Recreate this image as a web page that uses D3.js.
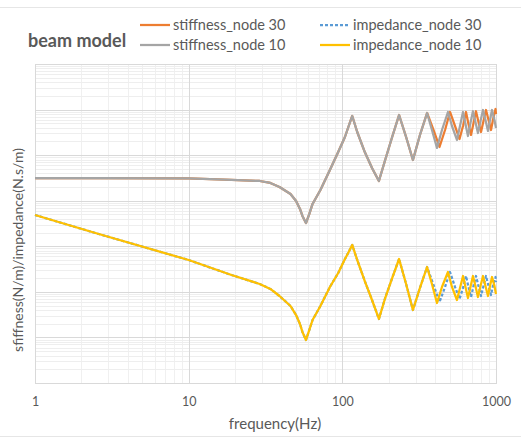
<!DOCTYPE html>
<html>
<head>
<meta charset="utf-8">
<script src="https://cdn.jsdelivr.net/npm/d3@7/dist/d3.min.js"></script>
<style>
  body { margin: 0; background: #fff; }
  text { font-family: Lato, "Open Sans", sans-serif; fill: #595959; }
</style>
</head>
<body>
<svg id="chart" width="521" height="438"></svg>
<script>
'use strict';

// frequency (Hz) and values
const freqNode10 = [1, 2.6, 10, 19, 29, 34, 39, 46, 50, 53, 55, 58, 61, 64, 72, 83, 94, 104, 110, 116,
  125, 140, 156, 173, 190, 211, 234, 260, 288, 320, 356, 383, 413, 445, 487, 517,
  557, 583, 610, 633, 657, 682, 708, 735, 763, 793, 823, 854, 887, 914, 942, 977, 1000];
const stiffNode10 = [3.15e7, 3.15e7, 3.08e7, 2.85e7, 2.71e7, 2.45e7, 2.0e7, 1.4e7, 9.86e6, 6.58e6, 4.62e6, 3.24e6, 5.12e6, 8.5e6, 1.72e7, 4.72e7, 1.17e8, 2.5e8, 4.36e8, 7.23e8,
  3.22e8, 1.17e8, 5.23e7, 2.71e7, 7.83e7, 2.5e8, 7.6e8, 2.5e8, 7.83e7, 2.77e8, 8.41e8, 3.56e8, 1.44e8, 3.56e8, 8.85e8, 4.36e8,
  2.15e8, 4.36e8, 8.85e8, 4.83e8, 2.63e8, 5.08e8, 9.19e8, 5.35e8, 3.06e8, 5.62e8, 9.79e8, 5.9e8, 3.39e8, 5.9e8, 9.79e8, 5.9e8, 3.94e8];
const impNode10 = [4.86e6, 1.86e6, 5.0e5, 2.34e5, 1.49e5, 1.16e5, 8.11e4, 4.9e4, 3.1e4, 1.97e4, 1.32e4, 8.79e3, 1.46e4, 2.41e4, 4.9e4, 1.28e5, 2.59e5, 5.26e5, 7.5e5, 1.07e6,
  5.0e5, 1.73e5, 6.62e4, 2.54e4, 7.33e4, 2.01e5, 5.26e5, 1.49e5, 4.0e4, 1.22e5, 3.51e5, 1.49e5, 5.7e4, 1.28e5, 2.73e5, 1.28e5,
  6.62e4, 1.22e5, 2.23e5, 1.28e5, 7.33e4, 1.28e5, 2.23e5, 1.35e5, 7.71e4, 1.35e5, 2.23e5, 1.35e5, 8.11e4, 1.35e5, 2.12e5, 1.35e5, 8.97e4];

const freqNode30 = [1, 2.6, 10, 19, 29, 34, 39, 46, 50, 53, 55, 58, 61, 64, 72, 83, 94, 104, 110, 116,
  125, 140, 156, 173, 190, 211, 234, 260, 288, 320, 356, 392, 429, 466, 502, 541,
  579, 610, 638, 662, 688, 714, 741, 769, 799, 829, 861, 894, 928, 955, 993, 1000];
const stiffNode30 = [3.15e7, 3.15e7, 3.08e7, 2.85e7, 2.71e7, 2.45e7, 2.0e7, 1.4e7, 9.86e6, 6.58e6, 4.62e6, 3.24e6, 5.12e6, 8.5e6, 1.72e7, 4.72e7, 1.17e8, 2.5e8, 4.36e8, 7.23e8,
  3.22e8, 1.17e8, 5.23e7, 2.71e7, 7.83e7, 2.5e8, 7.6e8, 2.5e8, 7.83e7, 2.77e8, 8.41e8, 3.56e8, 1.51e8, 3.56e8, 8.85e8, 4.36e8,
  2.26e8, 4.36e8, 8.85e8, 4.83e8, 2.77e8, 5.08e8, 9.19e8, 5.35e8, 3.22e8, 5.62e8, 9.79e8, 5.9e8, 3.56e8, 5.9e8, 1.03e9, 8.0e8];
const impNode30 = [4.86e6, 1.86e6, 5.0e5, 2.34e5, 1.49e5, 1.16e5, 8.11e4, 4.9e4, 3.1e4, 1.97e4, 1.32e4, 8.79e3, 1.46e4, 2.41e4, 4.9e4, 1.28e5, 2.59e5, 5.26e5, 7.5e5, 1.07e6,
  5.0e5, 1.73e5, 6.62e4, 2.54e4, 7.33e4, 2.01e5, 5.26e5, 1.49e5, 4.0e4, 1.22e5, 3.51e5, 1.42e5, 5.99e4, 1.28e5, 2.73e5, 1.28e5,
  6.97e4, 1.22e5, 2.23e5, 1.28e5, 7.71e4, 1.35e5, 2.23e5, 1.35e5, 8.11e4, 1.35e5, 2.23e5, 1.35e5, 8.53e4, 1.35e5, 2.12e5, 1.64e5];

const xTicks = [1, 10, 100, 1000];
const xTickLabels = ['1', '10', '100', '1000'];
const yDomain = [1e3, 1e10];

const series = [
  { name: 'stiffness_node 30', freq: freqNode30, values: stiffNode30, color: '#ED7D31', dash: null },
  { name: 'impedance_node 30', freq: freqNode30, values: impNode30, color: '#5B9BD5', dash: '3,2' },
  { name: 'stiffness_node 10', freq: freqNode10, values: stiffNode10, color: '#A5A5A5', dash: null },
  { name: 'impedance_node 10', freq: freqNode10, values: impNode10, color: '#FFC000', dash: null }
];

const svg = d3.select('#chart');
const plot = { left: 35, right: 496, top: 64, bottom: 383 };

const x = d3.scaleLog().domain([1, 1000]).range([plot.left, plot.right]);
const y = d3.scaleLog().domain(yDomain).range([plot.bottom, plot.top]);

// chart frame lines
svg.append('line').attr('x1', 0).attr('x2', 521).attr('y1', 7.5).attr('y2', 7.5)
  .attr('stroke', '#e6e6e6');
svg.append('line').attr('x1', 0).attr('x2', 521).attr('y1', 436.5).attr('y2', 436.5)
  .attr('stroke', '#e6e6e6');

// minor + major grid
const minorX = [], majorX = [];
for (let d = 1; d < 1000; d *= 10) {
  for (let k = 2; k <= 9; k++) minorX.push(d * k);
  if (d > 1) majorX.push(d);
}
const minorY = [], majorY = [];
for (let d = yDomain[0]; d < yDomain[1]; d *= 10) {
  for (let k = 2; k <= 9; k++) minorY.push(d * k);
  if (d > yDomain[0]) majorY.push(d);
}

const grid = svg.append('g');
grid.selectAll('.vminor').data(minorX).join('line')
  .attr('x1', d => Math.round(x(d)) + 0.5).attr('x2', d => Math.round(x(d)) + 0.5)
  .attr('y1', plot.top).attr('y2', plot.bottom)
  .attr('stroke', '#f0f0f0');
grid.selectAll('.hminor').data(minorY).join('line')
  .attr('y1', d => Math.round(y(d)) + 0.5).attr('y2', d => Math.round(y(d)) + 0.5)
  .attr('x1', plot.left).attr('x2', plot.right)
  .attr('stroke', '#eeeeee');
grid.selectAll('.vmajor').data(majorX).join('line')
  .attr('x1', d => Math.round(x(d)) + 0.5).attr('x2', d => Math.round(x(d)) + 0.5)
  .attr('y1', plot.top).attr('y2', plot.bottom)
  .attr('stroke', '#d9d9d9');
grid.selectAll('.hmajor').data(majorY).join('line')
  .attr('y1', d => Math.round(y(d)) + 0.5).attr('y2', d => Math.round(y(d)) + 0.5)
  .attr('x1', plot.left).attr('x2', plot.right)
  .attr('stroke', '#d9d9d9');
grid.append('rect')
  .attr('x', plot.left + 0.5).attr('y', plot.top + 0.5)
  .attr('width', plot.right - plot.left).attr('height', plot.bottom - plot.top)
  .attr('fill', 'none').attr('stroke', '#d9d9d9');

// x axis labels
const xAxis = d3.axisBottom(x).tickValues(xTicks).tickFormat((d, i) => xTickLabels[i])
  .tickSize(0).tickPadding(14);
svg.append('g')
  .attr('transform', `translate(0,${plot.bottom})`)
  .call(xAxis)
  .call(g => g.select('.domain').remove())
  .call(g => g.selectAll('text')
    .attr('fill', '#595959')
    .style('font-family', 'Lato, sans-serif')
    .style('font-size', '12.5px'));

svg.append('text')
  .attr('x', 275).attr('y', 429)
  .attr('text-anchor', 'middle')
  .style('font-size', '15px')
  .text('frequency(Hz)');

svg.append('text')
  .attr('transform', 'translate(23,250) rotate(-90)')
  .attr('text-anchor', 'middle')
  .style('font-size', '14px')
  .text('sfiffness(N/m)/impedance(N.s/m)');

// curves
const line = d3.line()
  .x(d => x(d[0]))
  .y(d => y(d[1]));

const curves = svg.append('g');
series.forEach(s => {
  const pts = s.freq.map((f, i) => [f, s.values[i]]);
  curves.append('path')
    .datum(pts)
    .attr('d', line)
    .attr('fill', 'none')
    .attr('stroke', s.color)
    .attr('stroke-width', 2.25)
    .attr('stroke-linejoin', 'round')
    .attr('stroke-dasharray', s.dash);
});

// title + legend
svg.append('text')
  .attr('x', 28).attr('y', 47)
  .style('font-size', '18px')
  .style('font-weight', 'bold')
  .text('beam model');

const legendPos = [
  { x: 140, y: 25 },
  { x: 320, y: 25 },
  { x: 140, y: 45 },
  { x: 320, y: 45 }
];
const legend = svg.append('g');
series.forEach((s, i) => {
  const p = legendPos[i];
  legend.append('line')
    .attr('x1', p.x).attr('x2', p.x + 30)
    .attr('y1', p.y).attr('y2', p.y)
    .attr('stroke', s.color)
    .attr('stroke-width', 2.25)
    .attr('stroke-dasharray', s.dash);
  legend.append('text')
    .attr('x', p.x + 33).attr('y', p.y + 5)
    .style('font-size', '14.5px')
    .text(s.name);
});
</script>
</body>
</html>
